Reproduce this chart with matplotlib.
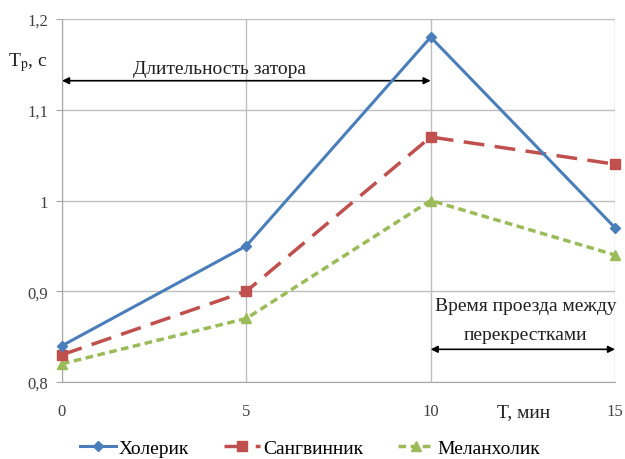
import matplotlib
matplotlib.use("Agg")
import matplotlib.pyplot as plt
from matplotlib.ticker import FuncFormatter

plt.rcParams['font.family'] = ['Liberation Serif', 'DejaVu Serif']
plt.rcParams['mathtext.fontset'] = 'stix'

x = [0, 5, 10, 15]
choleric = [0.84, 0.95, 1.18, 0.97]
sanguine = [0.83, 0.90, 1.07, 1.04]
melancholic = [0.82, 0.87, 1.00, 0.94]
names = ['Холерик', 'Сангвинник', 'Меланхолик']
yticks = [0.8, 0.9, 1.0, 1.1, 1.2]
xticks = [0, 5, 10, 15]

fig = plt.figure(figsize=(6.25, 4.6), dpi=100)
ax = fig.add_axes([0.0992, 0.1674, 0.8848, 0.7891])

ax.plot(x, choleric, color='#4A7EBB', lw=2.2, marker='D', ms=5, label=names[0], clip_on=False, zorder=5)
ax.plot(x, sanguine, color='#C0504D', lw=2.5, ls=(0, (6, 3)), marker='s', ms=7, label=names[1], clip_on=False, zorder=4)
ax.plot(x, melancholic, color='#9BBB59', lw=2.5, ls=(0, (2.2, 1.3)), marker='^', ms=7, label=names[2], clip_on=False, zorder=3)

ax.set_xlim(0, 15)
ax.set_ylim(0.8, 1.2)
ax.set_xticks(xticks)
ax.set_yticks(yticks)
ax.yaxis.set_major_formatter(FuncFormatter(lambda v, p: ('%g' % v).replace('.', ',')))
ax.grid(True, color='#BEBEBE', lw=1)
ax.set_axisbelow(True)
for s in ['top', 'right']:
    ax.spines[s].set_visible(False)
for s in ['left', 'bottom']:
    ax.spines[s].set_color('#A6A6A6')
ax.tick_params(axis='both', length=4, color='#A6A6A6', labelsize=12, colors='#404040')
ax.tick_params(axis='x', pad=15, length=0)
ax.tick_params(axis='y', pad=6)

# annotations
ax.annotate('', xy=(0, 1.132), xytext=(10, 1.132),
            arrowprops=dict(arrowstyle='<|-|>', color='black', lw=1.2, mutation_scale=10, shrinkA=0, shrinkB=0))
ax.text(4.28, 1.146, 'Длительность затора', ha='center', va='center', fontsize=14, color='#202020')
ax.annotate('', xy=(10, 0.836), xytext=(15, 0.836),
            arrowprops=dict(arrowstyle='<|-|>', color='black', lw=1.2, mutation_scale=10, shrinkA=0, shrinkB=0))
ax.text(12.57, 0.884, 'Время проезда между', ha='center', va='center', fontsize=14, color='#202020')
ax.text(12.57, 0.852, 'перекрестками', ha='center', va='center', fontsize=14, color='#202020')

fig.text(28 / 625, 1 - 63 / 460, 'T$_{\\rm p}$, с', ha='center', va='center', fontsize=14, color='#202020')
fig.text(524 / 625, 1 - 413 / 460, 'T, мин', ha='center', va='center', fontsize=14, color='#202020')

fig.legend(loc='center', bbox_to_anchor=(310 / 625, 1 - 449 / 460), ncol=3, frameon=False,
           fontsize=14, handlelength=1.85, columnspacing=1.8, handletextpad=0.15, borderpad=0)

fig.savefig('out.png', dpi=100)
